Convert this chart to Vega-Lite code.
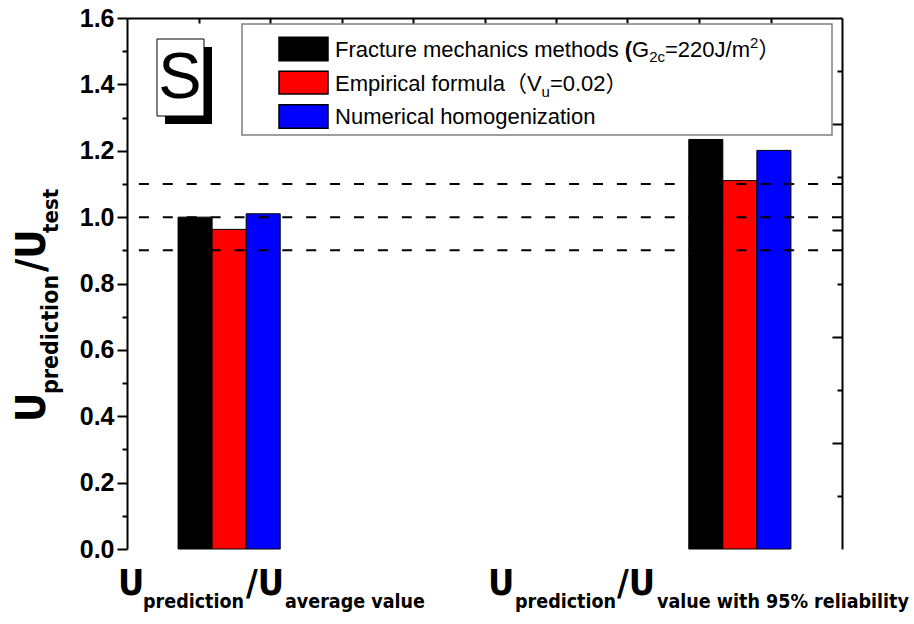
{
  "$schema": "https://vega.github.io/schema/vega-lite/v6.json",
  "width": 715,
  "height": 531,
  "autosize": {"type": "none"},
  "padding": {"left": 127, "top": 18, "right": 72, "bottom": 75},
  "background": "white",
  "config": {
    "view": {"stroke": null},
    "axis": {
      "domainColor": "#000000",
      "domainWidth": 2,
      "tickColor": "#000000",
      "tickWidth": 2,
      "labelColor": "#000000",
      "labelFont": "Liberation Sans",
      "labelFontWeight": "bold",
      "labelFontSize": 25,
      "grid": false,
      "zindex": 1
    },
    "text": {"font": "Liberation Sans", "color": "#000000", "align": "left", "baseline": "alphabetic"}
  },
  "datasets": {
    "bars": [
      {"category": "Average value", "series": "Fracture mechanics methods", "value": 1.0},
      {"category": "Average value", "series": "Empirical formula", "value": 0.963},
      {"category": "Average value", "series": "Numerical homogenization", "value": 1.01},
      {"category": "Value with 95% reliability", "series": "Fracture mechanics methods", "value": 1.234},
      {"category": "Value with 95% reliability", "series": "Empirical formula", "value": 1.11},
      {"category": "Value with 95% reliability", "series": "Numerical homogenization", "value": 1.201}
    ],
    "refs": [{"ratio": 0.9}, {"ratio": 1.0}, {"ratio": 1.1}]
  },
  "layer": [
    {
      "data": {"name": "bars"},
      "mark": {"type": "bar", "stroke": "#000000", "strokeWidth": 1},
      "encoding": {
        "x": {
          "field": "category",
          "type": "nominal",
          "scale": {
            "domain": ["Average value", "slot 2", "slot 3", "slot 4", "slot 5", "Value with 95% reliability"],
            "paddingInner": 0,
            "paddingOuter": 0.5
          },
          "axis": null
        },
        "xOffset": {
          "field": "series",
          "type": "nominal",
          "scale": {
            "domain": ["Fracture mechanics methods", "Empirical formula", "Numerical homogenization"],
            "paddingInner": 0,
            "paddingOuter": 0
          }
        },
        "y": {
          "field": "value",
          "type": "quantitative",
          "scale": {"domain": [0, 1.6], "nice": false},
          "axis": {
            "orient": "left",
            "title": null,
            "values": [0, 0.1, 0.2, 0.3, 0.4, 0.5, 0.6, 0.7, 0.8, 0.9, 1.0, 1.1, 1.2, 1.3, 1.4, 1.5, 1.6],
            "labelExpr": "round(datum.value * 10) % 2 === 1 ? '' : format(datum.value, '.1f')",
            "tickSize": {"condition": {"test": "round(datum.value * 10) % 2 === 1", "value": 5}, "value": 10},
            "labelPadding": 3,
            "labelFlush": false,
            "labelOverlap": false
          }
        },
        "color": {
          "field": "series",
          "type": "nominal",
          "scale": {
            "domain": ["Fracture mechanics methods", "Empirical formula", "Numerical homogenization"],
            "range": ["#000000", "#ff0000", "#0000ff"]
          },
          "legend": null
        }
      }
    },
    {
      "data": {"values": [{}]},
      "layer": [
        {
          "data": {"name": "refs"},
          "mark": {"type": "rule", "strokeDash": [10, 13.9], "strokeWidth": 2, "color": "#000000"},
          "encoding": {
            "y": {"field": "ratio", "type": "quantitative", "scale": {"domain": [0, 1.6], "nice": false}, "axis": null}
          }
        },
        {
          "mark": {"type": "rect", "fill": "#ffffff", "stroke": "#808080", "strokeWidth": 1.5},
          "encoding": {
            "x": {
              "datum": 1.1259,
              "type": "quantitative",
              "scale": {"domain": [0, 7], "nice": false},
              "axis": {
                "orient": "bottom",
                "title": null,
                "values": [0, 0.5, 1, 1.5, 2, 2.5, 3, 3.5, 4, 4.5, 5, 5.5, 6, 6.5, 7],
                "labels": false,
                "tickSize": {"condition": {"test": "round(datum.value * 2) % 2 === 1", "value": 5}, "value": 10}
              }
            },
            "x2": {"datum": 6.9021},
            "y": {"datum": 1.5819, "type": "quantitative", "scale": {"domain": [0, 1.6], "nice": false}, "axis": null},
            "y2": {"datum": 1.2475}
          }
        },
        {
          "mark": {"type": "rect", "fill": "#000000"},
          "encoding": {
            "x": {"datum": 0.372, "type": "quantitative", "scale": {"domain": [0, 7], "nice": false}, "axis": null},
            "x2": {"datum": 0.8322},
            "y": {"datum": 1.5126, "type": "quantitative", "scale": {"domain": [0, 1.6], "nice": false}, "axis": null},
            "y2": {"datum": 1.2806}
          }
        },
        {
          "mark": {"type": "rect", "fill": "#ffffff", "stroke": "#000000", "strokeWidth": 1},
          "encoding": {
            "x": {"datum": 0.2937, "type": "quantitative", "scale": {"domain": [0, 7], "nice": false}, "axis": null},
            "x2": {"datum": 0.7538},
            "y": {"datum": 1.5367, "type": "quantitative", "scale": {"domain": [0, 1.6], "nice": false}, "axis": null},
            "y2": {"datum": 1.3047}
          }
        },
        {
          "mark": {"type": "text", "text": "S", "fontSize": 65, "align": "center"},
          "encoding": {
            "x": {"datum": 0.5189, "type": "quantitative", "scale": {"domain": [0, 7], "nice": false}, "axis": null},
            "y": {"datum": 1.358, "type": "quantitative", "scale": {"domain": [0, 1.6], "nice": false}, "axis": null}
          }
        },
        {
          "mark": {"type": "rect", "fill": "#000000", "stroke": "#000000", "strokeWidth": 1.5},
          "encoding": {
            "x": {"datum": 1.4881, "type": "quantitative", "scale": {"domain": [0, 7], "nice": false}, "axis": null},
            "x2": {"datum": 1.9678},
            "y": {"datum": 1.5418, "type": "quantitative", "scale": {"domain": [0, 1.6], "nice": false}, "axis": null},
            "y2": {"datum": 1.4713}
          }
        },
        {
          "mark": {"type": "rect", "fill": "#ff0000", "stroke": "#000000", "strokeWidth": 1.5},
          "encoding": {
            "x": {"datum": 1.4881, "type": "quantitative", "scale": {"domain": [0, 7], "nice": false}, "axis": null},
            "x2": {"datum": 1.9678},
            "y": {"datum": 1.4394, "type": "quantitative", "scale": {"domain": [0, 1.6], "nice": false}, "axis": null},
            "y2": {"datum": 1.371}
          }
        },
        {
          "mark": {"type": "rect", "fill": "#0000ff", "stroke": "#000000", "strokeWidth": 1.5},
          "encoding": {
            "x": {"datum": 1.4881, "type": "quantitative", "scale": {"domain": [0, 7], "nice": false}, "axis": null},
            "x2": {"datum": 1.9678},
            "y": {"datum": 1.3388, "type": "quantitative", "scale": {"domain": [0, 1.6], "nice": false}, "axis": null},
            "y2": {"datum": 1.2676}
          }
        },
        {
          "layer": [
            {"mark": {"type": "text", "text": "Fracture mechanics methods", "fontSize": 22}},
            {"mark": {"type": "text", "text": "(", "fontSize": 22, "fontWeight": "bold", "dx": 289.8}},
            {"mark": {"type": "text", "text": "G", "fontSize": 22, "dx": 297.1}},
            {"mark": {"type": "text", "text": "2c", "fontSize": 15, "dx": 314.2, "dy": 5}},
            {"mark": {"type": "text", "text": "=220J/m", "fontSize": 22, "dx": 330.0}},
            {"mark": {"type": "text", "text": "2", "fontSize": 15, "dx": 415.0, "dy": -9}},
            {"mark": {"type": "text", "text": "）", "fontSize": 22, "font": "Noto Sans CJK SC", "dx": 423.3}}
          ],
          "encoding": {
            "x": {"datum": 2.0364, "type": "quantitative", "scale": {"domain": [0, 7], "nice": false}, "axis": null},
            "y": {"datum": 1.4835, "type": "quantitative", "scale": {"domain": [0, 1.6], "nice": false}, "axis": null}
          }
        },
        {
          "layer": [
            {"mark": {"type": "text", "text": "Empirical formula", "fontSize": 22}},
            {"mark": {"type": "text", "text": "（", "fontSize": 22, "font": "Noto Sans CJK SC", "dx": 169.9}},
            {"mark": {"type": "text", "text": "V", "fontSize": 22, "dx": 191.9}},
            {"mark": {"type": "text", "text": "u", "fontSize": 15, "dx": 206.6, "dy": 6}},
            {"mark": {"type": "text", "text": "=0.02", "fontSize": 22, "dx": 214.9}},
            {"mark": {"type": "text", "text": "）", "fontSize": 22, "font": "Noto Sans CJK SC", "dx": 270.6}}
          ],
          "encoding": {
            "x": {"datum": 2.0364, "type": "quantitative", "scale": {"domain": [0, 7], "nice": false}, "axis": null},
            "y": {"datum": 1.3808, "type": "quantitative", "scale": {"domain": [0, 1.6], "nice": false}, "axis": null}
          }
        },
        {
          "mark": {"type": "text", "text": "Numerical homogenization", "fontSize": 22},
          "encoding": {
            "x": {"datum": 2.0364, "type": "quantitative", "scale": {"domain": [0, 7], "nice": false}, "axis": null},
            "y": {"datum": 1.2806, "type": "quantitative", "scale": {"domain": [0, 1.6], "nice": false}, "axis": null}
          }
        },
        {
          "mark": {"type": "text", "text": "U", "fontSize": 36, "fontWeight": "bold", "font": "DejaVu Sans Condensed, sans-serif"},
          "encoding": {
            "x": {"datum": -0.088, "type": "quantitative", "scale": {"domain": [0, 7], "nice": false}, "axis": null},
            "y": {"datum": -0.1386, "type": "quantitative", "scale": {"domain": [0, 1.6], "nice": false}, "axis": null}
          }
        },
        {
          "mark": {"type": "text", "text": "prediction", "fontSize": 19.5, "fontWeight": "bold", "font": "DejaVu Sans Condensed, sans-serif"},
          "encoding": {
            "x": {"datum": 0.157, "type": "quantitative", "scale": {"domain": [0, 7], "nice": false}, "axis": null},
            "y": {"datum": -0.1778, "type": "quantitative", "scale": {"domain": [0, 1.6], "nice": false}, "axis": null}
          }
        },
        {
          "mark": {"type": "text", "text": "/U", "fontSize": 36, "fontWeight": "bold", "font": "DejaVu Sans Condensed, sans-serif"},
          "encoding": {
            "x": {"datum": 1.165, "type": "quantitative", "scale": {"domain": [0, 7], "nice": false}, "axis": null},
            "y": {"datum": -0.1386, "type": "quantitative", "scale": {"domain": [0, 1.6], "nice": false}, "axis": null}
          }
        },
        {
          "mark": {"type": "text", "text": "average value", "fontSize": 19.5, "fontWeight": "bold", "font": "DejaVu Sans Condensed, sans-serif"},
          "encoding": {
            "x": {"datum": 1.547, "type": "quantitative", "scale": {"domain": [0, 7], "nice": false}, "axis": null},
            "y": {"datum": -0.1778, "type": "quantitative", "scale": {"domain": [0, 1.6], "nice": false}, "axis": null}
          }
        },
        {
          "mark": {"type": "text", "text": "U", "fontSize": 36, "fontWeight": "bold", "font": "DejaVu Sans Condensed, sans-serif"},
          "encoding": {
            "x": {"datum": 3.534, "type": "quantitative", "scale": {"domain": [0, 7], "nice": false}, "axis": null},
            "y": {"datum": -0.1386, "type": "quantitative", "scale": {"domain": [0, 1.6], "nice": false}, "axis": null}
          }
        },
        {
          "mark": {"type": "text", "text": "prediction", "fontSize": 19.5, "fontWeight": "bold", "font": "DejaVu Sans Condensed, sans-serif"},
          "encoding": {
            "x": {"datum": 3.799, "type": "quantitative", "scale": {"domain": [0, 7], "nice": false}, "axis": null},
            "y": {"datum": -0.1778, "type": "quantitative", "scale": {"domain": [0, 1.6], "nice": false}, "axis": null}
          }
        },
        {
          "mark": {"type": "text", "text": "/U", "fontSize": 36, "fontWeight": "bold", "font": "DejaVu Sans Condensed, sans-serif"},
          "encoding": {
            "x": {"datum": 4.797, "type": "quantitative", "scale": {"domain": [0, 7], "nice": false}, "axis": null},
            "y": {"datum": -0.1386, "type": "quantitative", "scale": {"domain": [0, 1.6], "nice": false}, "axis": null}
          }
        },
        {
          "mark": {"type": "text", "text": "value with 95% reliability", "fontSize": 19.5, "fontWeight": "bold", "font": "DejaVu Sans Condensed, sans-serif"},
          "encoding": {
            "x": {"datum": 5.189, "type": "quantitative", "scale": {"domain": [0, 7], "nice": false}, "axis": null},
            "y": {"datum": -0.1778, "type": "quantitative", "scale": {"domain": [0, 1.6], "nice": false}, "axis": null}
          }
        },
        {
          "mark": {"type": "text", "text": "U", "fontSize": 40, "fontWeight": "bold", "angle": 270, "font": "DejaVu Sans Condensed, sans-serif"},
          "encoding": {
            "x": {"datum": -0.8028, "type": "quantitative", "scale": {"domain": [0, 7], "nice": false}, "axis": null},
            "y": {"datum": 0.3827, "type": "quantitative", "scale": {"domain": [0, 1.6], "nice": false}, "axis": null}
          }
        },
        {
          "mark": {"type": "text", "text": "prediction", "fontSize": 23, "fontWeight": "bold", "angle": 270, "font": "DejaVu Sans Condensed, sans-serif"},
          "encoding": {
            "x": {"datum": -0.6755, "type": "quantitative", "scale": {"domain": [0, 7], "nice": false}, "axis": null},
            "y": {"datum": 0.467, "type": "quantitative", "scale": {"domain": [0, 1.6], "nice": false}, "axis": null}
          }
        },
        {
          "mark": {"type": "text", "text": "/U", "fontSize": 40, "fontWeight": "bold", "angle": 270, "font": "DejaVu Sans Condensed, sans-serif"},
          "encoding": {
            "x": {"datum": -0.8028, "type": "quantitative", "scale": {"domain": [0, 7], "nice": false}, "axis": null},
            "y": {"datum": 0.8347, "type": "quantitative", "scale": {"domain": [0, 1.6], "nice": false}, "axis": null}
          }
        },
        {
          "mark": {"type": "text", "text": "test", "fontSize": 22, "fontWeight": "bold", "angle": 270, "font": "DejaVu Sans Condensed, sans-serif"},
          "encoding": {
            "x": {"datum": -0.6755, "type": "quantitative", "scale": {"domain": [0, 7], "nice": false}, "axis": null},
            "y": {"datum": 0.9522, "type": "quantitative", "scale": {"domain": [0, 1.6], "nice": false}, "axis": null}
          }
        }
      ]
    },
    {
      "data": {"values": [{}]},
      "mark": {"type": "point", "opacity": 0},
      "encoding": {
        "x": {
          "datum": 0,
          "type": "quantitative",
          "scale": {"domain": [0, 10], "nice": false},
          "axis": {
            "orient": "top",
            "title": null,
            "values": [1, 2, 3, 4, 5, 6, 7, 8, 9],
            "labels": false,
            "tickSize": {"condition": {"test": "datum.value % 2 === 1", "value": -5}, "value": -10}
          }
        },
        "y": {
          "datum": 0,
          "type": "quantitative",
          "scale": {"domain": [0, 1.6], "nice": false},
          "axis": {
            "orient": "right",
            "title": null,
            "values": [0.16, 0.32, 0.48, 0.64, 0.8, 0.96, 1.12, 1.28, 1.44],
            "labels": false,
            "tickSize": {"condition": {"test": "round(datum.value / 0.16) % 2 === 1", "value": -5}, "value": -10}
          }
        }
      }
    }
  ],
  "resolve": {"scale": {"x": "independent", "y": "independent"}}
}
